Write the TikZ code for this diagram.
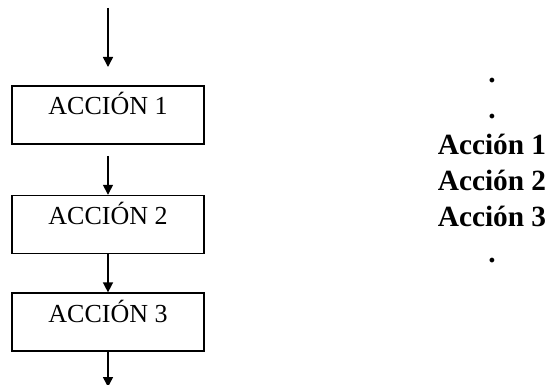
\documentclass[tikz,border=0pt]{standalone}
\usepackage{fontspec}
\setmainfont{Liberation Serif}
\usetikzlibrary{arrows.meta,positioning}

\begin{document}
\begin{tikzpicture}[x=0.75pt,y=-0.75pt,>={Triangle[width=7.5pt,length=7.5pt]},
  accion/.style={draw,line width=1.2pt,minimum width=144pt,minimum height=43.5pt,inner sep=0pt,text height=12pt,text depth=12pt,font=\fontsize{19.5}{22}\selectfont},
  flecha/.style={->,line width=1.1pt}]
\useasboundingbox (0,0) rectangle (554,385);
\node[accion] (a1) at (108,115) {ACCIÓN 1};
\node[accion,below=37.5pt of a1] (a2) {ACCIÓN 2};
\node[accion,below=28.5pt of a2] (a3) {ACCIÓN 3};
\coordinate (ini) at (108,8);
\coordinate (fin) at (108,67);
\coordinate[below=8.25pt of a1] (sal1);
\coordinate[below=26.25pt of a3] (fin3);
\draw[flecha] (ini) -- (fin);
\draw[flecha] (sal1) -- (a2);
\draw[flecha] (a2) -- (a3);
\draw[flecha] (a3) -- (fin3);
\node[font=\bfseries\fontsize{22}{27}\selectfont,align=center] (lista) at (492,170.5) {.\\.\\Acción 1\\Acción 2\\Acción 3\\.};
\end{tikzpicture}
\end{document}
